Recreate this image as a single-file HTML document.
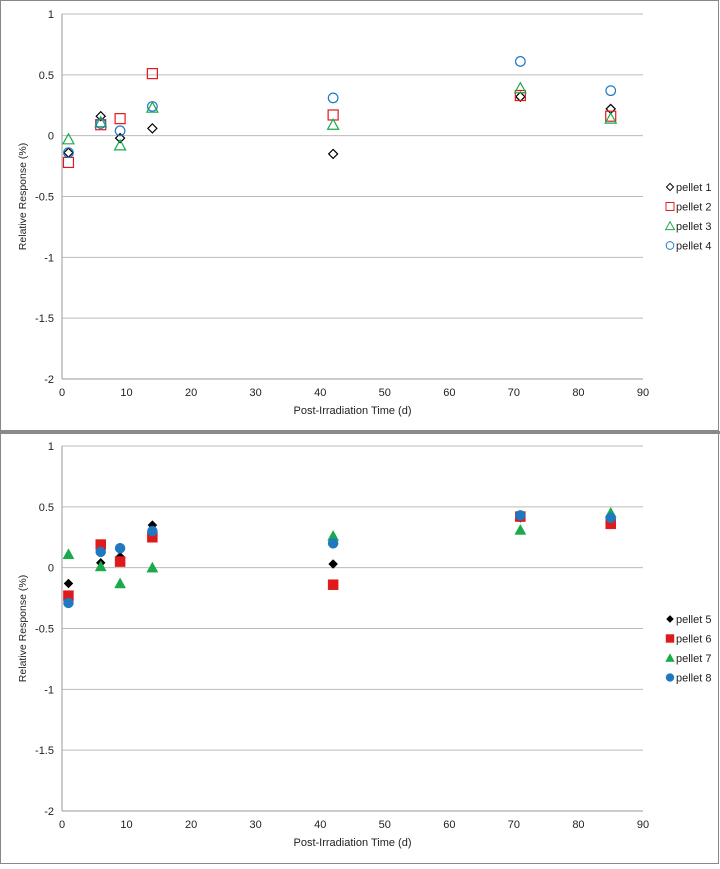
<!DOCTYPE html>
<html><head><meta charset="utf-8"><style>
body{margin:0;background:#fff;}
svg text{font-family:"Liberation Sans",sans-serif;fill:#222;}
</style></head><body>
<svg id="s" width="720" height="864" xmlns="http://www.w3.org/2000/svg">
<rect x="0" y="0" width="720" height="864" fill="#fff"/>
<rect x="0.5" y="0.5" width="718" height="430" fill="none" stroke="#888"/>
<rect x="0" y="431" width="720" height="3" fill="#8a8a8a"/>
<rect x="0.5" y="433.5" width="718" height="430" fill="none" stroke="#888"/>
</svg>
<script>
const xTicks=[0,10,20,30,40,50,60,70,80,90];
const yTicks=[1,0.5,0,-0.5,-1,-1.5,-2];
const times=[1,6,9,14,42,71,85];
const p1=[-0.14,0.16,-0.02,0.06,-0.15,0.32,0.22];
const p2=[-0.22,0.09,0.14,0.51,0.17,0.33,0.16];
const p3=[-0.03,0.11,-0.08,0.23,0.09,0.39,0.14];
const p4=[-0.14,0.10,0.04,0.24,0.31,0.61,0.37];
const p5=[-0.13,0.04,0.09,0.35,0.03,0.41,0.40];
const p6=[-0.23,0.19,0.05,0.25,-0.14,0.42,0.36];
const p7=[0.11,0.01,-0.13,0.00,0.26,0.31,0.45];
const p8=[-0.29,0.13,0.16,0.30,0.20,0.43,0.41];
const topNames=["pellet 1","pellet 2","pellet 3","pellet 4"];
const botNames=["pellet 5","pellet 6","pellet 7","pellet 8"];
const NS="http://www.w3.org/2000/svg";
const svg=document.getElementById('s');
function el(t,a,p){const e=document.createElementNS(NS,t);for(const k in a)e.setAttribute(k,a[k]);(p||svg).appendChild(e);return e;}
const colors=["#000","#e0191b","#1aaa4a","#1f78c0"];
function marker(g,type,cx,cy,c,filled){
  let e;
  if(type===0){const r=4.5;e=el('polygon',{points:`${cx},${cy-r} ${cx+r},${cy} ${cx},${cy+r} ${cx-r},${cy}`},g);}
  else if(type===1){e=el('rect',{x:cx-5,y:cy-5,width:10,height:10},g);}
  else if(type===2){e=el('polygon',{points:`${cx},${cy-5.5} ${cx+5.5},${cy+4.5} ${cx-5.5},${cy+4.5}`},g);}
  else {e=el('circle',{cx:cx,cy:cy,r:filled?5:4.8},g);}
  e.setAttribute('fill',filled?c:'none');e.setAttribute('stroke',c);e.setAttribute('stroke-width',filled?0.5:1.2);
  return e;
}
function chart(top,series,names,filled,pref){
  const x0=62,x1=643,yT=top+14,yB=top+379;
  const sx=v=>x0+(v-0)/90*(x1-x0);
  const sy=v=>yT+(1-v)/3*(yB-yT);
  const g=el('g',{});
  
  
  yTicks.forEach(t=>{
    if(t!==-2){const l=el('line',{x1:x0,x2:x1,y1:sy(t),y2:sy(t),stroke:'#bbb','stroke-width':1},g);
    }
    const tx=el('text',{x:x0-8,y:sy(t)+4,'text-anchor':'end','font-size':11},g);tx.textContent=t;
    
  });
  const ax=el('line',{x1:x0,x2:x0,y1:yT,y2:yB,stroke:'#999'},g);
  
  const bx=el('line',{x1:x0,x2:x1,y1:yB,y2:yB,stroke:'#999'},g);
  
  xTicks.forEach(t=>{
    const tx=el('text',{x:sx(t),y:yB+17,'text-anchor':'middle','font-size':11},g);tx.textContent=t;
    
  });
  const xt=el('text',{x:(x0+x1)/2,y:yB+35,'text-anchor':'middle','font-size':11},g);xt.textContent='Post-Irradiation Time (d)';
  
  const cy=(yT+yB)/2;
  const yt=el('text',{x:26,y:cy,'text-anchor':'middle','font-size':10.5,transform:`rotate(-90 26 ${cy})`},g);yt.textContent='Relative Response (%)';
  
  series.forEach((s,i)=>{
    s.forEach((v,j)=>{const m=marker(g,i,sx(times[j]),sy(v),colors[i],filled);
      
      });
    const ly=top+187+i*19.5;
    const lm=marker(g,i,670,ly,colors[i],filled);
    lm.setAttribute('transform',`translate(${670} ${ly}) scale(0.8) translate(${-670} ${-ly})`);
    
    const lt=el('text',{x:676,y:ly+4,'font-size':11},g);lt.textContent=names[i];
    
  });
}
chart(0,[p1,p2,p3,p4],topNames,false,'top');
chart(432,[p5,p6,p7,p8],botNames,true,'bottom');
</script>
</body></html>
